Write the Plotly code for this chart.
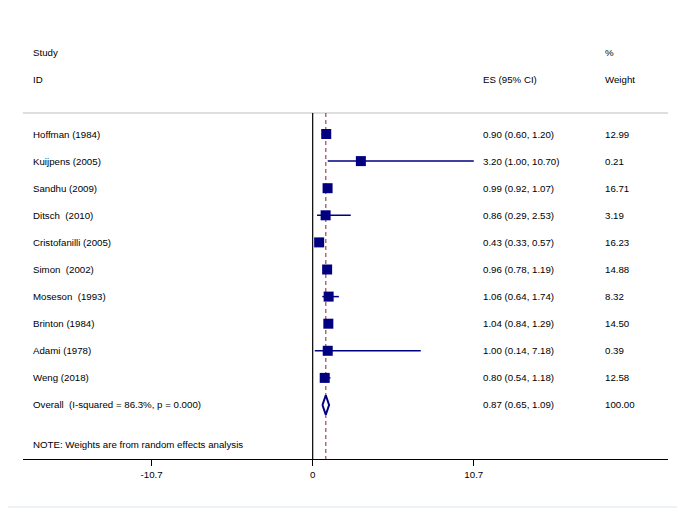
import plotly.graph_objects as go

studies = ["Hoffman (1984)", "Kuijpens (2005)", "Sandhu (2009)", "Ditsch  (2010)",
           "Cristofanilli (2005)", "Simon  (2002)", "Moseson  (1993)", "Brinton (1984)",
           "Adami (1978)", "Weng (2018)"]
es = [0.90, 3.20, 0.99, 0.86, 0.43, 0.96, 1.06, 1.04, 1.00, 0.80]
lo = [0.60, 1.00, 0.92, 0.29, 0.33, 0.78, 0.64, 0.84, 0.14, 0.54]
hi = [1.20, 10.70, 1.07, 2.53, 0.57, 1.19, 1.74, 1.29, 7.18, 1.18]
weights = ["12.99", "0.21", "16.71", "3.19", "16.23", "14.88", "8.32", "14.50", "0.39", "12.58"]

overall_label = "Overall  (I-squared = 86.3%, p = 0.000)"
overall_es, overall_lo, overall_hi = 0.87, 0.65, 1.09
overall_weight = "100.00"
note = "NOTE: Weights are from random effects analysis"

tick_vals = [-10.7, 0, 10.7]
tick_text = ["-10.7", "0", "10.7"]

NAVY = "#000080"
FONT = "Liberation Sans, Arial, sans-serif"
FS = 9.7

# page offset (body margin) compensation
OFF = 8
L, T = 23 - OFF, 30 - OFF
PW, PH = 645, 429

rows = list(range(1, len(studies) + 1))
overall_row = len(studies) + 1

fig = go.Figure()

# CI lines
cx, cy = [], []
for r, a, b in zip(rows, lo, hi):
    cx += [a, b, None]
    cy += [r, r, None]
fig.add_trace(go.Scatter(x=cx, y=cy, mode="lines", line=dict(color=NAVY, width=1.5),
                         hoverinfo="skip", showlegend=False))

# squares
fig.add_trace(go.Scatter(x=es, y=rows, mode="markers",
                         marker=dict(symbol="square", size=10, color=NAVY),
                         showlegend=False))

# diamond
h = 0.36
fig.add_trace(go.Scatter(x=[overall_lo, overall_es, overall_hi, overall_es, overall_lo],
                         y=[overall_row, overall_row - h, overall_row, overall_row + h, overall_row],
                         mode="lines", fill="toself", fillcolor="white",
                         line=dict(color=NAVY, width=2), showlegend=False))

top_line = 0.225
bottom = 12.993
edge_x = (684 - OFF - L) / PW
edge_y = 1 - (507 - OFF - T) / PH
shapes = [
    dict(type="line", xref="paper", yref="y", x0=0, x1=1, y0=top_line, y1=top_line,
         line=dict(color="#d3d3d3", width=1.5), layer="below"),
    dict(type="line", xref="x", yref="y", x0=0, x1=0, y0=top_line, y1=bottom,
         line=dict(color="black", width=1.2), layer="below"),
    dict(type="line", xref="x", yref="y", x0=overall_es, x1=overall_es, y0=top_line, y1=bottom,
         line=dict(color="#a8525e", width=1.3, dash="4px,3px"), layer="below"),
    dict(type="line", xref="paper", yref="paper", x0=edge_x, x1=edge_x,
         y0=edge_y, y1=1 + T / PH, line=dict(color="#e6eef2", width=1.5)),
    dict(type="line", xref="paper", yref="paper", x0=-L / PW, x1=edge_x,
         y0=edge_y, y1=edge_y, line=dict(color="#e6eef2", width=1.5)),
]

annotations = []
def txt(x, y, s):
    annotations.append(dict(x=x, y=y, xref="paper", yref="y", text=s, showarrow=False,
                            xanchor="left", yanchor="middle",
                            font=dict(family=FONT, size=FS, color="black")))

col_study = (31 - 23) / PW
col_es = (481 - 23) / PW
col_w = (603 - 23) / PW

txt(col_study, -2, "Study")
txt(col_study, -1, "ID")
txt(col_es, -1, "ES (95% CI)")
txt(col_w, -2, "%")
txt(col_w, -1, "Weight")
for r, s, e, a, b, w in zip(rows, studies, es, lo, hi, weights):
    txt(col_study, r, s)
    txt(col_es, r, f"{e:.2f} ({a:.2f}, {b:.2f})")
    txt(col_w, r, w)
txt(col_study, overall_row, overall_label)
txt(col_es, overall_row, f"{overall_es:.2f} ({overall_lo:.2f}, {overall_hi:.2f})")
txt(col_w, overall_row, overall_weight)
txt(col_study, 12.44, note)

fig.update_layout(
    width=685, height=509,
    margin=dict(l=L, r=685 - L - PW, t=T, b=509 - T - PH),
    paper_bgcolor="white", plot_bgcolor="white",
    shapes=shapes, annotations=annotations,
    font=dict(family=FONT, size=FS, color="black"),
    xaxis=dict(range=[-19.24, 23.6], showgrid=False, zeroline=False,
               showline=True, linecolor="black", linewidth=1.3,
               ticks="outside", ticklen=6, tickwidth=1, tickcolor="black",
               tickvals=tick_vals, ticktext=tick_text,
               tickfont=dict(family=FONT, size=FS, color="black")),
    yaxis=dict(range=[bottom, -2.838], showgrid=False, zeroline=False,
               showline=False, showticklabels=False, ticks=""),
)

fig.write_html("out.html")
